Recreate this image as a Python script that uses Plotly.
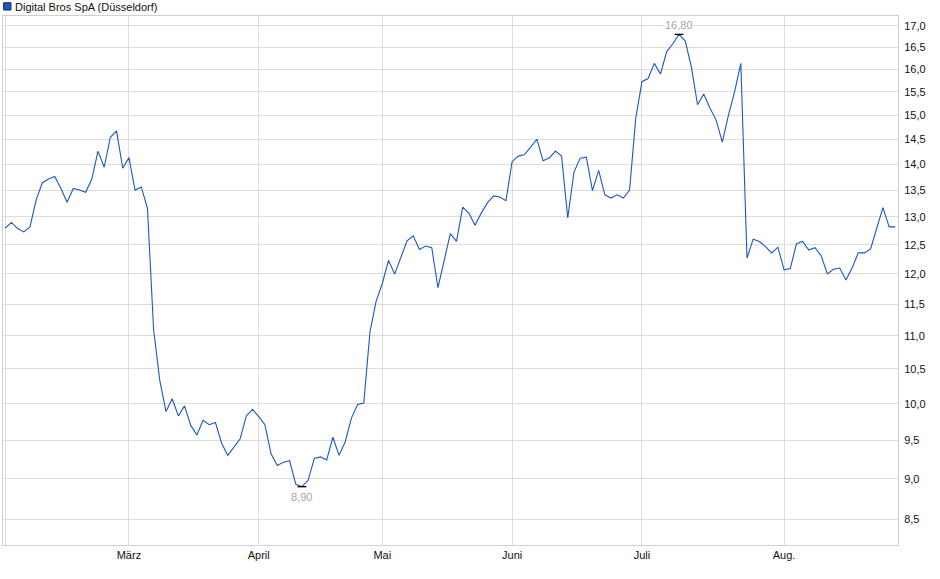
import math
import plotly.graph_objects as go

# Digital Bros SpA, Düsseldorf quotes (one value per trading day)
prices = [
    12.80, 12.90, 12.79, 12.73, 12.82, 13.32, 13.64, 13.71, 13.76, 13.53,
    13.27, 13.53, 13.50, 13.46, 13.71, 14.26, 13.94, 14.54, 14.67, 13.92,
    14.13, 13.50, 13.56, 13.16, 11.09, 10.33, 9.89, 10.07, 9.83, 9.97,
    9.70, 9.57, 9.77, 9.71, 9.74, 9.46, 9.30, 9.41, 9.52, 9.83,
    9.92, 9.82, 9.71, 9.32, 9.17, 9.21, 9.23, 8.93, 8.90, 8.98,
    9.26, 9.28, 9.24, 9.54, 9.30, 9.48, 9.80, 9.99, 10.01, 11.06,
    11.55, 11.84, 12.23, 12.00, 12.29, 12.57, 12.66, 12.42, 12.48, 12.45,
    11.77, 12.23, 12.70, 12.56, 13.18, 13.07, 12.85, 13.07, 13.26, 13.39,
    13.37, 13.30, 14.05, 14.16, 14.19, 14.34, 14.50, 14.07, 14.12, 14.26,
    14.16, 12.98, 13.84, 14.12, 14.14, 13.49, 13.88, 13.41, 13.35, 13.41,
    13.35, 13.50, 14.93, 15.72, 15.79, 16.13, 15.89, 16.40, 16.58, 16.80,
    16.65, 16.05, 15.22, 15.45, 15.15, 14.90, 14.44, 15.00, 15.50, 16.13,
    12.27, 12.60, 12.56, 12.47, 12.36, 12.46, 12.07, 12.09, 12.52, 12.56,
    12.41, 12.45, 12.31, 12.00, 12.08, 12.10, 11.90, 12.10, 12.36, 12.36,
    12.43, 12.80, 13.17, 12.82, 12.82,
]

# first trading day of each month (index into prices)
month_idx = [0, 20, 41, 61, 82, 103, 126]
month_names = ["", "März", "April", "Mai", "Juni", "Juli", "Aug."]

y_ticks = [8.5, 9.0, 9.5, 10.0, 10.5, 11.0, 11.5, 12.0, 12.5, 13.0,
           13.5, 14.0, 14.5, 15.0, 15.5, 16.0, 16.5, 17.0]

LINE = "#1c58c0"
GRID = "#dcdcdc"
LABEL = "#aaa398"

x = list(range(len(prices)))

fig = go.Figure()
fig.add_trace(go.Scatter(x=x, y=prices, mode="lines",
                         line=dict(color=LINE, width=1.1),
                         showlegend=False, hoverinfo="skip"))

# high / low markers (annotations on a log axis take log10 values)
i_max = prices.index(max(prices))
i_min = prices.index(min(prices))
for i, pos in ((i_max, "top"), (i_min, "bottom")):
    v = prices[i]
    fig.add_shape(type="line", x0=i - 0.72, x1=i + 0.72, y0=v, y1=v,
                  line=dict(color="black", width=1.3))
    fig.add_annotation(x=i, y=math.log10(v), text=f"{v:.2f}".replace(".", ","),
                       showarrow=False, bgcolor="white", borderpad=0,
                       font=dict(color=LABEL, size=11),
                       yanchor="bottom" if pos == "top" else "top",
                       yshift=2 if pos == "top" else -3)

# legend box
fig.add_shape(type="rect", xref="paper", yref="paper",
              x0=0.0007, x1=0.0089, y0=1.0113, y1=1.0251,
              fillcolor=LINE, line=dict(color="#1a2a50", width=1))
fig.add_annotation(xref="paper", yref="paper", x=0.0115, y=1.0178,
                   xanchor="left", yanchor="middle", showarrow=False,
                   text="Digital Bros SpA (Düsseldorf)",
                   font=dict(color="#111111", size=11))

fig.update_layout(
    width=940, height=579,
    margin=dict(l=3, r=42, t=16, b=34),
    paper_bgcolor="white", plot_bgcolor="white",
    separators=",.",
    font=dict(family="Liberation Sans, Arial, sans-serif", size=11, color="#111111"),
    xaxis=dict(range=[-0.37, 144.43], tickmode="array",
               tickvals=month_idx, ticktext=month_names,
               showgrid=True, gridcolor=GRID, gridwidth=1,
               showline=True, linecolor="#d0d0d0", mirror=True,
               zeroline=False, ticks="", ticklabelstandoff=0, automargin=False),
    yaxis=dict(type="log", side="right",
               range=[0.91381, 1.23654], tickmode="array",
               tickvals=y_ticks, tickformat=".1f",
               showgrid=True, gridcolor=GRID, gridwidth=1,
               showline=True, linecolor="#d0d0d0", mirror=True,
               zeroline=False, ticks="", ticklabelstandoff=3, automargin=False),
)

fig.write_html("out.html", config={"displayModeBar": False},
               post_script="document.body.style.margin='0';")
